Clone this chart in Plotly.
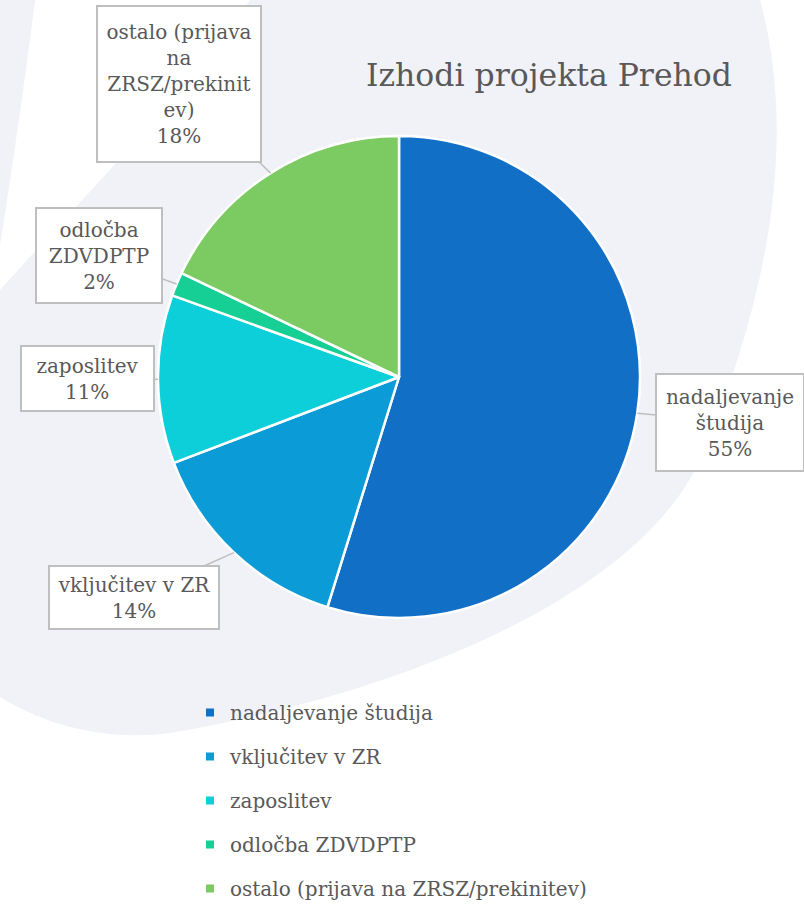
import math
import plotly.graph_objects as go

# ---- data ----
categories = ["nadaljevanje študija", "vključitev v ZR", "zaposlitev", "odločba ZDVDPTP",
              "ostalo (prijava na ZRSZ/prekinitev)"]
values = [54.8, 14.4, 11.3, 1.6, 17.9]
label_texts = ["nadaljevanje<br>študija", "vključitev v ZR", "zaposlitev", "odločba<br>ZDVDPTP",
               "ostalo (prijava<br>na<br>ZRSZ/prekinit<br>ev)"]
colors = ["#1170c6", "#0b9bd7", "#0dcfd9", "#15cf95", "#7cca62"]
title_text = "Izhodi projekta Prehod"

W, H = 804, 904
FONT = "DejaVu Serif"
GREY_TXT = "#595959"


def px(x):
    return x / W


def py(y):
    return 1 - y / H


# pie geometry (pixels)
CX, CY, R = 399, 377, 241

fig = go.Figure()

fig.add_trace(go.Pie(
    labels=categories, values=values, sort=False, direction="clockwise", rotation=0,
    marker=dict(colors=colors, line=dict(color="white", width=2.5)),
    textinfo="none", hoverinfo="label+percent", showlegend=False,
    domain=dict(x=[px(CX - R), px(CX + R)], y=[py(CY + R), py(CY - R)]),
))

# legend entries (one per category, separate groups to space them)
for cat, col in zip(categories, colors):
    fig.add_trace(go.Scatter(
        x=[None], y=[None], mode="markers", name=cat, legendgroup=cat,
        marker=dict(symbol="square", size=8, color=col), showlegend=True,
    ))

# callout boxes: (box center px, width, height)
box_layout = [
    ((730, 422), 150, 99),
    ((134, 597), 172, 65),
    ((87, 378), 135, 67),
    ((99, 256), 128, 97),
    ((179, 84), 166, 158),
]

total = sum(values)
cum = 0.0
annotations = []
for v, txt, (ctr, bw, bh) in zip(values, label_texts, box_layout):
    frac_mid = (cum + v / 2) / total
    cum += v
    ang = 2 * math.pi * frac_mid
    tx = CX + R * math.sin(ang)
    ty = CY - R * math.cos(ang)
    pct = round(100 * v / total)
    annotations.append(dict(
        x=px(tx), y=py(ty), xref="paper", yref="paper",
        text=f"{txt}<br>{pct}%", showarrow=True, arrowhead=0, arrowwidth=1.5,
        arrowcolor="#bfbfbf", ax=ctr[0] - tx, ay=ctr[1] - ty, axref="pixel", ayref="pixel",
        bgcolor="white", bordercolor="#bfbfbf", borderwidth=2, borderpad=0,
        width=bw - 4, height=bh - 4, align="center", valign="middle",
        font=dict(family=FONT, size=20, color=GREY_TXT),
    ))


def P(x, y):
    return f"{px(x):.5f},{py(y):.5f}"


bg_path = (f"M {P(250,0)} L {P(760,0)} C {P(790,110)} {P(785,260)} {P(700,460)} "
           f"C {P(640,590)} {P(420,690)} {P(170,733)} C {P(100,742)} {P(40,722)} {P(0,697)} "
           f"L {P(0,290)} C {P(80,200)} {P(190,90)} {P(250,0)} Z")
corner_path = f"M {P(0,0)} L {P(35,0)} C {P(25,80)} {P(12,170)} {P(0,245)} Z"

shapes = [
    dict(type="path", path=bg_path, xref="paper", yref="paper", fillcolor="#f1f2f8",
         line=dict(width=0), layer="below"),
    dict(type="path", path=corner_path, xref="paper", yref="paper", fillcolor="#f1f2f8",
         line=dict(width=0), layer="below"),
]

fig.update_layout(
    width=W, height=H,
    margin=dict(l=0, r=0, t=0, b=0, autoexpand=False),
    paper_bgcolor="white", plot_bgcolor="rgba(0,0,0,0)",
    xaxis=dict(visible=False), yaxis=dict(visible=False),
    title=dict(text=title_text, x=px(549), y=py(75), xanchor="center", yanchor="middle",
               font=dict(family=FONT, size=31.5, color=GREY_TXT)),
    legend=dict(x=px(190), y=py(693), xanchor="left", yanchor="top",
                font=dict(family=FONT, size=20, color=GREY_TXT),
                tracegroupgap=15, bgcolor="rgba(0,0,0,0)", itemclick=False),
    annotations=annotations,
    shapes=shapes,
)

fig.write_html("out.html")
